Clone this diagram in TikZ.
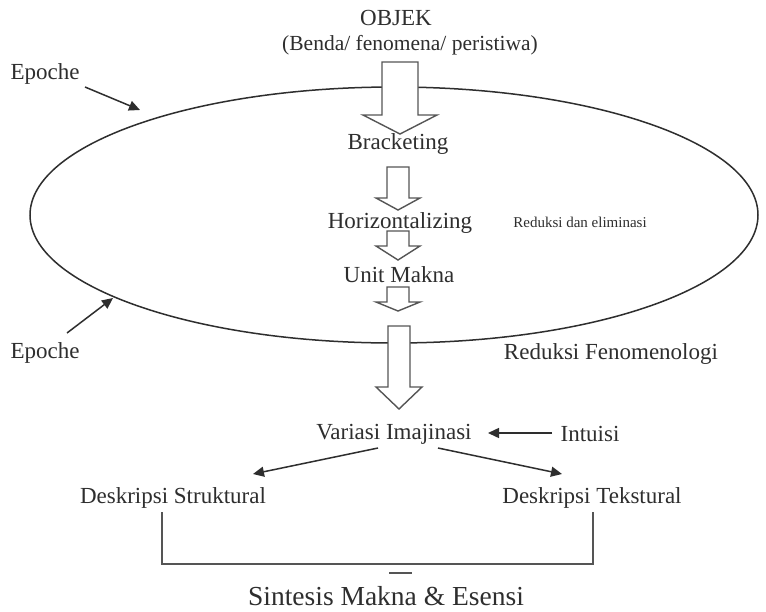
\documentclass[tikz,border=0pt]{standalone}
\usepackage{fontspec}
\setmainfont{Liberation Serif}
\usetikzlibrary{arrows.meta}
\definecolor{ink}{HTML}{2E2E2E}
\definecolor{barrow}{HTML}{555555}
\newcommand{\fs}[1]{\fontsize{#1}{#1}\selectfont}
\newcommand{\blockarrow}[7]{%
  % #1 cx, #2 top, #3 head start, #4 tip, #5 shaft half, #6 head half, #7 name
  \draw[blk] (#1-#5,#2) -- (#1+#5,#2) -- (#1+#5,#3) -- (#1+#6,#3) -- (#1,#4)
    -- (#1-#6,#3) -- (#1-#5,#3) -- cycle;
  \coordinate (#7) at (#1,#4);}
\begin{document}
\begin{tikzpicture}[x=1pt,y=-1pt,
  txt/.style={inner sep=0pt, text=ink, font=\fs{23}},
  blk/.style={draw=barrow, fill=white, line width=1.4pt, line join=miter},
  arr/.style={draw=ink, line width=1.5pt, -{Triangle[length=11pt,width=10pt]}},
  line/.style={draw=barrow, line width=1.6pt}]
\useasboundingbox (0,0) rectangle (766,611);
\fill[white] (0,0) rectangle (766,611);

% ellipse
\draw[ink, line width=1.5pt] (394,215) ellipse [x radius=364pt, y radius=128pt];

% block arrows
\blockarrow{400}{62}{115}{134}{18}{37}{a1}
\blockarrow{398}{167}{198}{210}{11}{22}{a2}
\blockarrow{398}{231}{246}{260}{11}{22}{a3}
\blockarrow{398}{287}{302}{311}{11}{22}{a4}
\blockarrow{399}{326}{387}{409}{11}{23}{a5}

% texts
\node[txt] (objek) at (396,18) {OBJEK};
\node[txt, font=\fs{21.5}] (benda) at (410,45) {(Benda/ fenomena/ peristiwa)};
\node[txt] (brack) at (398,144) {Bracketing};
\node[txt] (horiz) at (400,223) {Horizontalizing};
\node[txt] (unit) at (399,275) {Unit Makna};
\node[txt, font=\fs{15}] (redel) at (580,222) {Reduksi dan eliminasi};
\node[txt] (epo1) at (45,74) {Epoche};
\node[txt] (epo2) at (45,353) {Epoche};
\node[txt] (redfen) at (611,354) {Reduksi Fenomenologi};
\node[txt] (variasi) at (394,434) {Variasi Imajinasi};
\node[txt] (intuisi) at (590,434) {Intuisi};
\node[txt] (dstruk) at (173,498) {Deskripsi Struktural};
\node[txt] (dteks) at (592,498) {Deskripsi Tekstural};
\node[txt, font=\fs{27.5}] (sintesis) at (386,596) {Sintesis Makna \& Esensi};

% Epoche pointers
\coordinate (e1s) at (85,87);
\coordinate (e1t) at (140,110);
\coordinate (e2s) at (67,333);
\coordinate (e2t) at (113,298);
\draw[arr] (e1s) -- (e1t);
\draw[arr] (e2s) -- (e2t);

% intuisi and description arrows
\coordinate (ins) at (552,433);
\coordinate (int) at (488,433);
\draw[arr] (ins) -- (int);
\coordinate (vls) at (378,448);
\coordinate (vlt) at (253,474);
\draw[arr] (vls) -- (vlt);
\coordinate (vrs) at (438,448);
\coordinate (vrt) at (562,474);
\draw[arr] (vrs) -- (vrt);

% bracket
\coordinate (bl) at (162,512);
\coordinate (br) at (593,512);
\draw[line] (bl) -- (162,564) -- (593,564) -- (br);
\coordinate (d1) at (389,573);
\coordinate (d2) at (412,573);
\draw[line] (d1) -- (d2);
\end{tikzpicture}
\end{document}
